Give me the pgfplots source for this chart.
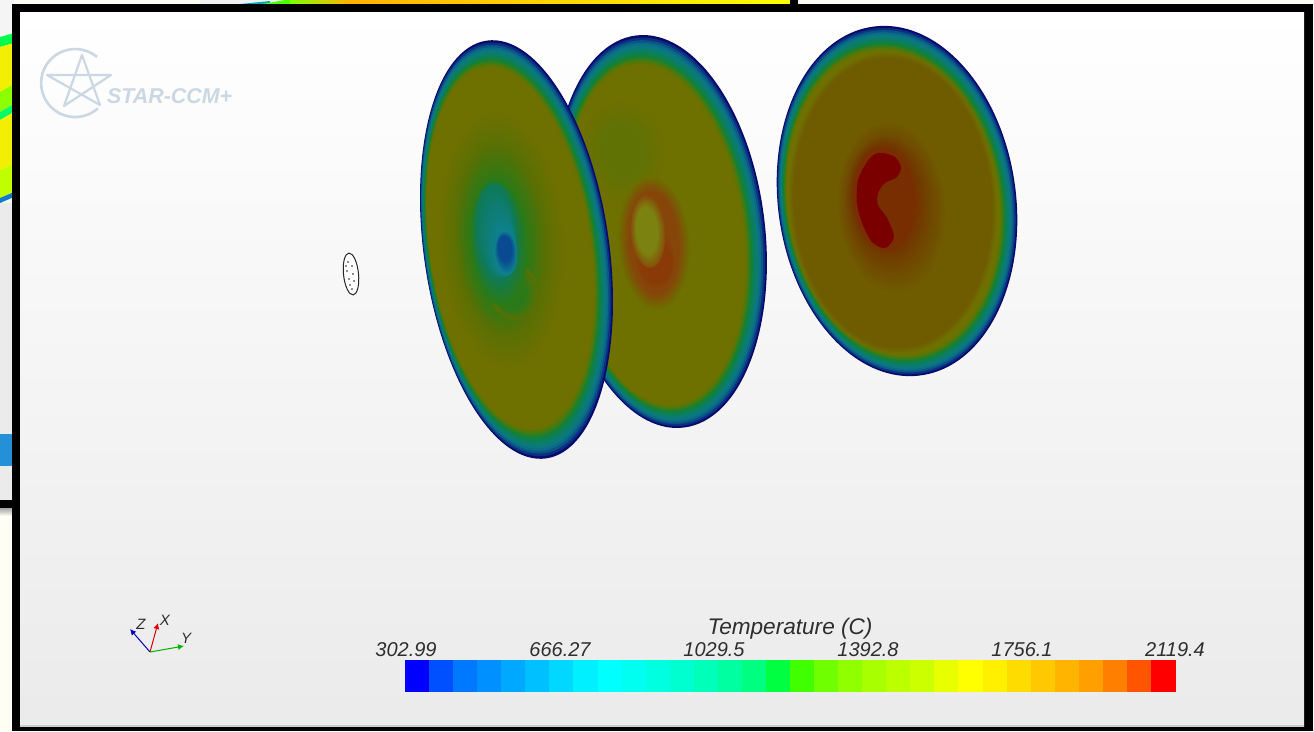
\documentclass[border=0pt]{standalone}
\usepackage{pgfplots}
\pgfplotsset{compat=1.18}
\usetikzlibrary{arrows.meta}
\usepackage{fontspec}
\setmainfont{Liberation Sans}
\definecolor{r0}{HTML}{0A0A6E}
\definecolor{r1}{HTML}{0A3080}
\definecolor{r2}{HTML}{0A5488}
\definecolor{r3}{HTML}{0B6C88}
\definecolor{r4}{HTML}{0B7880}
\definecolor{r5}{HTML}{0B7C70}
\definecolor{r6}{HTML}{0C7E60}
\definecolor{r7}{HTML}{0E8048}
\definecolor{r8}{HTML}{188030}
\definecolor{r9}{HTML}{3A7C18}
\definecolor{r10}{HTML}{557608}
\definecolor{r11}{HTML}{6A7200}
\definecolor{r12}{HTML}{6E7000}
% disc palettes
\definecolor{aa}{HTML}{6E7000}\definecolor{ab}{HTML}{5A7004}
\definecolor{ba}{HTML}{5A7004}\definecolor{bb}{HTML}{2A7A18}
\definecolor{ca}{HTML}{2A7A18}\definecolor{cb}{HTML}{0E7A5A}
\definecolor{da}{HTML}{0E7A5A}\definecolor{db}{HTML}{0E8090}
\definecolor{ea}{HTML}{0E8090}\definecolor{eb}{HTML}{0A4A90}
\definecolor{fa}{HTML}{5A7004}\definecolor{fb}{HTML}{2A7A1A}
\definecolor{ga}{HTML}{6E7000}\definecolor{gb}{HTML}{607204}
\definecolor{ha}{HTML}{6F6C00}\definecolor{hb}{HTML}{86460A}
\definecolor{ia}{HTML}{86460A}\definecolor{ib}{HTML}{8A3A06}
\definecolor{ja}{HTML}{86500A}\definecolor{jb}{HTML}{7C8210}
\definecolor{na}{HTML}{6E7000}\definecolor{nb}{HTML}{6F5C00}
\definecolor{ka}{HTML}{6F5C00}\definecolor{kb}{HTML}{704C00}
\definecolor{la}{HTML}{704C00}\definecolor{lb}{HTML}{703E00}
\definecolor{ma}{HTML}{703E00}\definecolor{mb}{HTML}{782E00}
\definecolor{logo}{HTML}{CBD8E4}
\definecolor{txt}{HTML}{2E2E2E}
% colour bar
\definecolor{c1}{HTML}{0000FF}\definecolor{c2}{HTML}{0050FF}\definecolor{c3}{HTML}{0078FF}\definecolor{c4}{HTML}{0090FF}
\definecolor{c5}{HTML}{00A8FF}\definecolor{c6}{HTML}{00C0FF}\definecolor{c7}{HTML}{00D8FF}\definecolor{c8}{HTML}{00F0FF}
\definecolor{c9}{HTML}{00FFFF}\definecolor{c10}{HTML}{00FFF0}\definecolor{c11}{HTML}{00FFE0}\definecolor{c12}{HTML}{00FFD0}
\definecolor{c13}{HTML}{00FFB8}\definecolor{c14}{HTML}{00FFA0}\definecolor{c15}{HTML}{00FF80}\definecolor{c16}{HTML}{00FF40}
\definecolor{c17}{HTML}{40FF00}\definecolor{c18}{HTML}{70FF00}\definecolor{c19}{HTML}{90FF00}\definecolor{c20}{HTML}{A8FF00}
\definecolor{c21}{HTML}{BBFF00}\definecolor{c22}{HTML}{CCFF00}\definecolor{c23}{HTML}{E8FF00}\definecolor{c24}{HTML}{FFFF00}
\definecolor{c25}{HTML}{FFF000}\definecolor{c26}{HTML}{FFDC00}\definecolor{c27}{HTML}{FFC800}\definecolor{c28}{HTML}{FFB400}
\definecolor{c29}{HTML}{FFA000}\definecolor{c30}{HTML}{FF8000}\definecolor{c31}{HTML}{FF5500}\definecolor{c32}{HTML}{FF0000}
\newcommand\rect[5]{\addplot[draw=none,fill=#5] coordinates {(#1,#2)(#3,#2)(#3,#4)(#1,#4)} -- cycle;}
\newcommand\rim[9]{%
  \pgfplotsinvokeforeach{0,...,12}{%
    \fill[r##1] (axis cs:{#1+##1/12*(#5-#1)},{#2+##1/12*(#6-#2)}) ellipse [x radius={(#4+##1/12*(#8-#4))*1pt}, y radius={(#3+##1/12*(#7-#3))*1pt}, rotate=#9];
  }}
\newcommand\grad[9]{%
  \pgfplotsinvokeforeach{0,10,...,100}{%
    \fill[#9b!##1!#9a] (axis cs:{#1+##1/100*(#5-#1)},{#2+##1/100*(#6-#2)}) ellipse [x radius={(#4+##1/100*(#8-#4))*1pt}, y radius={(#3+##1/100*(#7-#3))*1pt}, rotate=4];
  }}
\begin{document}
\begin{tikzpicture}
\begin{axis}[
  width=1314pt,height=731pt,scale only axis,
  xmin=0,xmax=1314,ymin=0,ymax=731,y dir=reverse,
  axis lines=none,clip=true]
% surroundings
\rect{0}{0}{1314}{731}{yellow!4}
\rect{0}{0}{14}{204}{white!96!black}
\addplot[draw=none,fill=green!70!cyan] coordinates {(0,37)(14,33)(14,43)(0,47)} -- cycle;
\addplot[draw=none,fill=yellow!95!green] coordinates {(0,47)(14,43)(14,84)(0,92)} -- cycle;
\addplot[draw=none,fill=green!45!yellow] coordinates {(0,92)(14,84)(14,104)(0,112)} -- cycle;
\addplot[draw=none,fill=green!60!cyan] coordinates {(0,112)(14,104)(14,112)(0,120)} -- cycle;
\addplot[draw=none,fill=yellow!95!green] coordinates {(0,120)(14,112)(14,164)(0,170)} -- cycle;
\addplot[draw=none,fill=green!25!yellow] coordinates {(0,170)(14,164)(14,192)(0,198)} -- cycle;
\addplot[draw=none,fill=cyan!60!blue] coordinates {(0,198)(14,192)(14,197)(0,203)} -- cycle;
\rect{0}{203}{14}{500}{black!8}
\rect{0}{434}{14}{466}{cyan!70!blue!90!white}
\rect{0}{500}{14}{508}{black}
\fill[top color=black!35,bottom color=yellow!4] (axis cs:0,508) rectangle (axis cs:14,516);
% slide behind, top strip
\rect{200}{0}{800}{5}{white!95!black}
\addplot[draw=none,fill=cyan!70!green] coordinates {(240,4)(270,1)(270,4)} -- cycle;
\addplot[draw=none,fill=green!70!yellow] coordinates {(262,4)(285,0)(300,0)(300,4)} -- cycle;
\fill[left color=green!50!yellow,right color=orange!60!yellow] (axis cs:290,0) rectangle (axis cs:350,4);
\fill[left color=orange!60!yellow,right color=yellow] (axis cs:350,0) rectangle (axis cs:790,4);
\rect{790}{0}{798}{4}{black}
% frame and panel
\rect{12}{4}{1313}{731}{black}
\fill[top color=white,bottom color=black!8] (axis cs:20,12) rectangle (axis cs:1304,726);
\rect{20}{725}{1304}{726.5}{black!20}
% Disc 2 (behind)
\rim{660}{231.5}{197.5}{105}{655}{235}{170}{88}{6.9}
\grad{623}{152}{52}{42}{623}{150}{25}{22}{g}
\grad{654}{243}{66}{35}{654}{243}{52}{25}{h}
\grad{655}{258}{32}{20}{656}{262}{20}{15}{i}
\grad{648}{232}{36}{17}{647}{231}{24}{11}{j}
% Disc 1
\rim{516.5}{249.5}{211}{92.7}{510}{248}{181}{80}{8.1}
\grad{502}{240}{130}{62}{501}{240}{97}{45}{a}
\grad{501}{240}{97}{45}{499}{243}{63}{28}{b}
\grad{514}{292}{28}{24}{512}{294}{16}{14}{f}
\grad{499}{243}{63}{28}{496}{232}{47}{19}{c}
\grad{496}{232}{47}{19}{506}{253}{22}{11}{d}
\grad{506}{253}{22}{11}{505}{249}{13}{7}{e}
% Disc 3
\rim{897}{201}{176}{119}{893}{203}{152}{105}{7.8}
\grad{893}{203}{151}{104}{893}{203}{145}{99}{n}
\grad{892}{208}{88}{55}{890}{205}{70}{45}{k}
\grad{890}{205}{70}{45}{887}{200}{58}{37}{l}
\grad{887}{200}{58}{37}{884}{198}{50}{30}{m}
\addplot[draw=none,fill=red!48!black,smooth cycle] coordinates {(883,153)(895,157)(901,167)(897,177)(885,183)(878,193)(878,205)(887,218)(894,237)(885,248)(872,242)(862,223)(857,203)(858,180)(867,162)(875,154)};
% small injector
\draw[black!85,fill=white,line width=1pt] (axis cs:351,274) ellipse [x radius=7.5pt, y radius=21pt, rotate=6];
\addplot[only marks,mark=*,mark size=0.6pt,black!70] coordinates {(348,262)(352,266)(347,271)(353,274)(349,279)(354,281)(350,285)(352,289)(346,266)};
% colour bar
\rect{405}{660}{429.06}{692}{c1}\rect{429.06}{660}{453.13}{692}{c2}\rect{453.13}{660}{477.19}{692}{c3}\rect{477.19}{660}{501.25}{692}{c4}
\rect{501.25}{660}{525.31}{692}{c5}\rect{525.31}{660}{549.38}{692}{c6}\rect{549.38}{660}{573.44}{692}{c7}\rect{573.44}{660}{597.5}{692}{c8}
\rect{597.5}{660}{621.56}{692}{c9}\rect{621.56}{660}{645.63}{692}{c10}\rect{645.63}{660}{669.69}{692}{c11}\rect{669.69}{660}{693.75}{692}{c12}
\rect{693.75}{660}{717.81}{692}{c13}\rect{717.81}{660}{741.88}{692}{c14}\rect{741.88}{660}{765.94}{692}{c15}\rect{765.94}{660}{790}{692}{c16}
\rect{790}{660}{814.06}{692}{c17}\rect{814.06}{660}{838.13}{692}{c18}\rect{838.13}{660}{862.19}{692}{c19}\rect{862.19}{660}{886.25}{692}{c20}
\rect{886.25}{660}{910.31}{692}{c21}\rect{910.31}{660}{934.38}{692}{c22}\rect{934.38}{660}{958.44}{692}{c23}\rect{958.44}{660}{982.5}{692}{c24}
\rect{982.5}{660}{1006.56}{692}{c25}\rect{1006.56}{660}{1030.63}{692}{c26}\rect{1030.63}{660}{1054.69}{692}{c27}\rect{1054.69}{660}{1078.75}{692}{c28}
\rect{1078.75}{660}{1102.81}{692}{c29}\rect{1102.81}{660}{1126.88}{692}{c30}\rect{1126.88}{660}{1151}{692}{c31}\rect{1151}{660}{1175.5}{692}{c32}
% logo
\draw[logo,line width=2.6pt] (axis cs:97,57) arc [start angle=50,end angle=312,radius=34pt];
\draw[logo,line width=2.2pt,line join=round] (axis cs:82,55) -- (axis cs:64,106) -- (axis cs:111,75) -- (axis cs:47,75) -- (axis cs:100,105) -- cycle;
\node[anchor=west,text=logo,inner sep=0pt] at (axis cs:107,96) {\fontsize{21.4}{24}\selectfont\bfseries\itshape STAR-CCM+};
% triad
\addplot[blue!75!black,line width=1pt,-{Latex[length=6pt,width=6pt]}] coordinates {(150,652)(130,629)};
\addplot[red!85!black,line width=1pt,-{Latex[length=6pt,width=6pt]}] coordinates {(150,652)(158,623)};
\addplot[green!70!black,line width=1pt,-{Latex[length=6pt,width=6pt]}] coordinates {(150,652)(184,646)};
\node[text=txt] at (axis cs:141,624) {\fontsize{15}{17}\selectfont\itshape Z};
\node[text=txt] at (axis cs:165,620) {\fontsize{15}{17}\selectfont\itshape X};
\node[text=txt] at (axis cs:186,638) {\fontsize{15}{17}\selectfont\itshape Y};
% labels
\node[text=txt] at (axis cs:790,629) {\fontsize{22.6}{26}\selectfont\itshape Temperature (C)};
\node[text=txt] at (axis cs:406,650) {\fontsize{20}{24}\selectfont\itshape 302.99};
\node[text=txt] at (axis cs:560,650) {\fontsize{20}{24}\selectfont\itshape 666.27};
\node[text=txt] at (axis cs:714,650) {\fontsize{20}{24}\selectfont\itshape 1029.5};
\node[text=txt] at (axis cs:868,650) {\fontsize{20}{24}\selectfont\itshape 1392.8};
\node[text=txt] at (axis cs:1022,650) {\fontsize{20}{24}\selectfont\itshape 1756.1};
\node[text=txt] at (axis cs:1175,650) {\fontsize{20}{24}\selectfont\itshape 2119.4};
\end{axis}
\end{tikzpicture}
\end{document}
